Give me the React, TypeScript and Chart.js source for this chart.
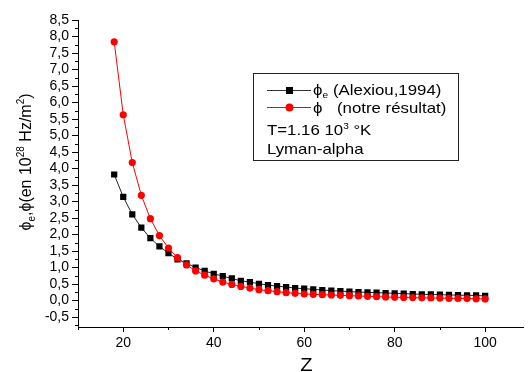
import React, { useEffect, useRef } from "react";
import { Chart, registerables } from "chart.js";

Chart.register(...registerables);

const zValues = [18, 20, 22, 24, 26, 28, 30, 32, 34, 36, 38, 40, 42, 44, 46, 48, 50, 52, 54, 56, 58, 60, 62, 64, 66, 68, 70, 72, 74, 76, 78, 80, 82, 84, 86, 88, 90, 92, 94, 96, 98, 100];
const alexiouValues = [3.82, 3.14, 2.61, 2.21, 1.89, 1.64, 1.44, 1.25, 1.13, 1.0, 0.9, 0.81, 0.74, 0.67, 0.6, 0.56, 0.51, 0.47, 0.44, 0.41, 0.38, 0.36, 0.34, 0.32, 0.3, 0.29, 0.27, 0.26, 0.25, 0.24, 0.23, 0.22, 0.21, 0.2, 0.19, 0.185, 0.18, 0.17, 0.165, 0.16, 0.155, 0.14];
const notreValues = [7.84, 5.63, 4.18, 3.19, 2.48, 1.97, 1.59, 1.3, 1.08, 0.9, 0.77, 0.66, 0.56, 0.49, 0.43, 0.38, 0.33, 0.3, 0.27, 0.24, 0.22, 0.2, 0.19, 0.18, 0.17, 0.16, 0.15, 0.14, 0.13, 0.12, 0.11, 0.1, 0.095, 0.09, 0.085, 0.08, 0.075, 0.07, 0.065, 0.06, 0.055, 0.05];
const xMajorTicks = [20, 40, 60, 80, 100];
const xMinorTicks = [10, 30, 50, 70, 90];
const yMajorTicks = [-0.5, 0, 0.5, 1, 1.5, 2, 2.5, 3, 3.5, 4, 4.5, 5, 5.5, 6, 6.5, 7, 7.5, 8, 8.5];
const yMinorTicks = [-0.75, -0.25, 0.25, 0.75, 1.25, 1.75, 2.25, 2.75, 3.25, 3.75, 4.25, 4.75, 5.25, 5.75, 6.25, 6.75, 7.25, 7.75, 8.25];

const FONT = "'Liberation Sans', Arial, sans-serif";
const PHI = "ϕ";
const SX = 1.12;

type Seg = { t: string; size: number; dy: number };

function drawSegs(ctx: CanvasRenderingContext2D, segs: Seg[], x: number, y: number, align: "left" | "center", sx = 1) {
  let total = 0;
  const widths = segs.map((s) => {
    ctx.font = `${s.size}px ${FONT}`;
    const w = ctx.measureText(s.t).width;
    total += w;
    return w;
  });
  ctx.save();
  ctx.translate(x, y);
  ctx.scale(sx, 1);
  let cx = align === "center" ? -total / 2 : 0;
  ctx.textAlign = "left";
  ctx.textBaseline = "alphabetic";
  segs.forEach((s, i) => {
    ctx.font = `${s.size}px ${FONT}`;
    ctx.fillText(s.t, cx, s.dy);
    cx += widths[i];
  });
  ctx.restore();
}

const decorPlugin = {
  id: "decor",
  afterDraw(chart: any) {
    const ctx: CanvasRenderingContext2D = chart.ctx;
    const xs = chart.scales.x;
    const ys = chart.scales.y;
    const area = chart.chartArea;
    ctx.save();
    // minor ticks
    ctx.strokeStyle = "#000";
    ctx.lineWidth = 1;
    ctx.beginPath();
    xMinorTicks.forEach((v) => {
      const px = Math.round(xs.getPixelForValue(v)) + 0.5;
      ctx.moveTo(px, area.bottom);
      ctx.lineTo(px, area.bottom + 3);
    });
    yMinorTicks.forEach((v) => {
      const py = Math.round(ys.getPixelForValue(v)) + 0.5;
      ctx.moveTo(area.left, py);
      ctx.lineTo(area.left - 3, py);
    });
    ctx.stroke();

    // x title
    ctx.fillStyle = "#000";
    drawSegs(ctx, [{ t: "Z", size: 18, dy: 0 }], 306.5, 371, "center", 1.12);

    // y title
    ctx.save();
    ctx.translate(31, 162);
    ctx.rotate(-Math.PI / 2);
    drawSegs(
      ctx,
      [
        { t: PHI, size: 16, dy: 0 },
        { t: "e", size: 10, dy: 4 },
        { t: "," + PHI + "(en 10", size: 16, dy: 0 },
        { t: "28", size: 10, dy: -7 },
        { t: " Hz/m", size: 16, dy: 0 },
        { t: "2", size: 10, dy: -7 },
        { t: ")", size: 16, dy: 0 },
      ],
      0,
      0,
      "center"
    );
    ctx.restore();

    // legend box
    ctx.strokeStyle = "#222";
    ctx.lineWidth = 1;
    ctx.strokeRect(253.5, 73.5, 205, 87);
    // row 1
    ctx.beginPath();
    ctx.moveTo(267, 90.5);
    ctx.lineTo(311, 90.5);
    ctx.strokeStyle = "#333";
    ctx.stroke();
    ctx.fillStyle = "#000";
    ctx.fillRect(286, 87, 7, 7);
    drawSegs(
      ctx,
      [
        { t: PHI, size: 15, dy: 0 },
        { t: "e", size: 9, dy: 3 },
      ],
      313,
      95,
      "left",
      SX
    );
    drawSegs(ctx, [{ t: "(Alexiou,1994)", size: 15, dy: 0 }], 333, 95, "left", SX);
    // row 2
    ctx.beginPath();
    ctx.moveTo(267, 107.5);
    ctx.lineTo(311, 107.5);
    ctx.strokeStyle = "#ff0000";
    ctx.stroke();
    ctx.fillStyle = "#ff0000";
    ctx.beginPath();
    ctx.arc(289.5, 107.5, 4, 0, Math.PI * 2);
    ctx.fill();
    ctx.fillStyle = "#000";
    drawSegs(ctx, [{ t: PHI, size: 15, dy: 0 }], 313, 112.5, "left", SX);
    drawSegs(ctx, [{ t: "(notre résultat)", size: 15, dy: 0 }], 337, 112.5, "left", SX);
    // row 3
    drawSegs(
      ctx,
      [
        { t: "T=1.16 10", size: 15, dy: 0 },
        { t: "3", size: 9, dy: -6 },
        { t: " °K", size: 15, dy: 0 },
      ],
      267,
      135,
      "left",
      SX
    );
    // row 4
    drawSegs(ctx, [{ t: "Lyman-alpha", size: 15, dy: 0 }], 267, 154, "left", SX);
    ctx.restore();
  },
};

export default function App() {
  const canvasRef = useRef<HTMLCanvasElement | null>(null);

  useEffect(() => {
    const canvas = canvasRef.current;
    if (!canvas) return;
    const chart = new Chart(canvas, {
      type: "scatter",
      data: {
        datasets: [
          {
            label: "notre",
            data: zValues.map((z, i) => ({ x: z, y: notreValues[i] })),
            showLine: true,
            borderColor: "#ff0000",
            backgroundColor: "#ff0000",
            borderWidth: 1,
            pointStyle: "circle",
            pointRadius: 3.6,
            pointBorderWidth: 0,
            order: 0,
          },
          {
            label: "Alexiou",
            data: zValues.map((z, i) => ({ x: z, y: alexiouValues[i] })),
            showLine: true,
            borderColor: "#222",
            backgroundColor: "#000",
            borderWidth: 1,
            pointStyle: "rect",
            pointRadius: 4.4,
            pointBorderWidth: 0,
            order: 1,
          },
        ],
      },
      options: {
        animation: false,
        responsive: false,
        layout: { padding: { top: 20, right: 1, left: 0, bottom: 0 } },
        plugins: { legend: { display: false }, tooltip: { enabled: false } },
        scales: {
          x: {
            type: "linear",
            min: 10,
            max: 108.5,
            afterBuildTicks: (scale: any) => {
              scale.ticks = xMajorTicks.map((v) => ({ value: v }));
            },
            afterFit: (scale: any) => {
              scale.height = 45;
            },
            grid: { drawOnChartArea: false, drawTicks: true, tickLength: 5, color: "#000", tickColor: "#000" },
            border: { display: true, color: "#000", width: 1 },
            ticks: {
              color: "#000",
              font: { family: FONT, size: 14 },
              padding: 3,
              maxRotation: 0,
              autoSkip: false,
            },
          },
          y: {
            type: "linear",
            min: -0.8,
            max: 8.5,
            afterBuildTicks: (scale: any) => {
              scale.ticks = yMajorTicks.map((v) => ({ value: v }));
            },
            afterFit: (scale: any) => {
              scale.width = 78;
            },
            grid: { drawOnChartArea: false, drawTicks: true, tickLength: 6, color: "#000", tickColor: "#000" },
            border: { display: true, color: "#000", width: 1 },
            ticks: {
              color: "#000",
              font: { family: FONT, size: 14 },
              padding: 3,
              autoSkip: false,
              callback: (v: any) => Number(v).toFixed(1).replace(".", ","),
            },
          },
        },
      },
      plugins: [decorPlugin],
    } as any);
    return () => chart.destroy();
  }, []);

  return (
    <div style={{ position: "fixed", left: 0, top: 0, width: 528, height: 372, background: "#fff" }}>
      <canvas ref={canvasRef} width={528} height={372} style={{ display: "block" }} />
    </div>
  );
}
